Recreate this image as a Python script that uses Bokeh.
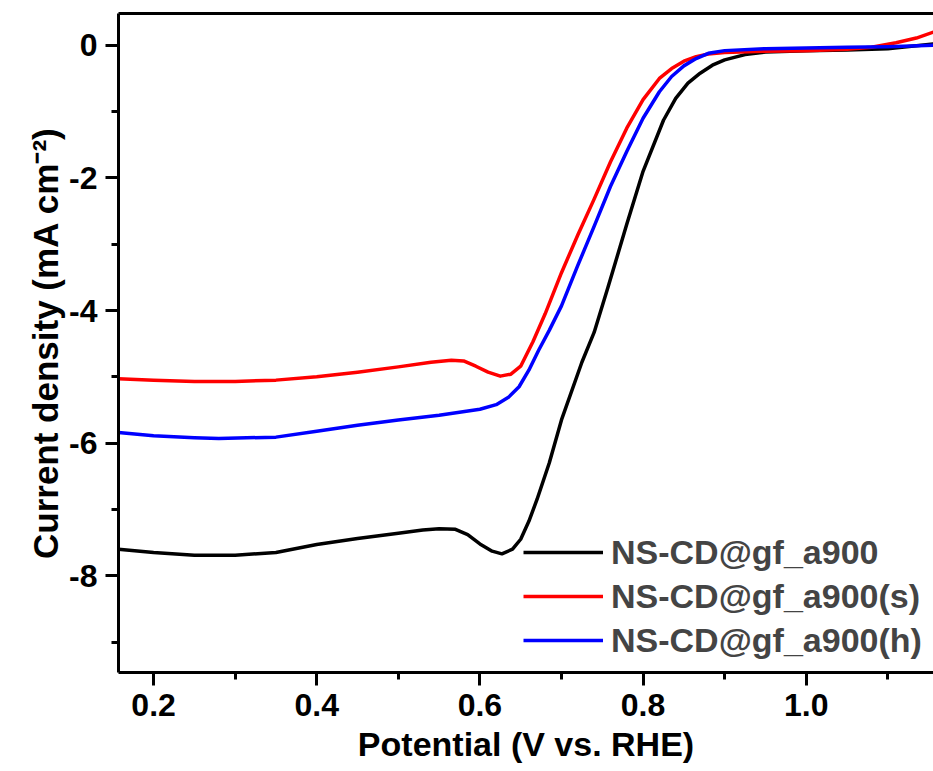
from bokeh.plotting import figure
from bokeh.models import (Range1d, SingleIntervalTicker, LinearAxis, FixedTicker, Legend,
                          LegendItem, PrintfTickFormatter)
from bokeh.embed import file_html
from bokeh.resources import INLINE

# --- data ---
potential_a900 = [0.157, 0.20, 0.25, 0.30, 0.35, 0.40, 0.45, 0.50, 0.53, 0.55, 0.57, 0.585, 0.60, 0.615,
                  0.627, 0.64, 0.65, 0.66, 0.67, 0.685, 0.70, 0.725, 0.74, 0.757, 0.78, 0.80, 0.825,
                  0.84, 0.855, 0.87, 0.885, 0.90, 0.925, 0.95, 1.00, 1.05, 1.10, 1.156]
current_a900 = [-7.60, -7.65, -7.69, -7.69, -7.65, -7.53, -7.44, -7.36, -7.31, -7.29, -7.30, -7.38, -7.52, -7.63,
                -7.67, -7.60, -7.45, -7.18, -6.85, -6.30, -5.65, -4.78, -4.33, -3.65, -2.70, -1.90, -1.13,
                -0.80, -0.57, -0.42, -0.30, -0.22, -0.14, -0.10, -0.08, -0.07, -0.05, 0.02]

potential_a900s = [0.157, 0.20, 0.25, 0.30, 0.35, 0.40, 0.45, 0.50, 0.54, 0.565, 0.58, 0.595, 0.61, 0.625,
                   0.638, 0.65, 0.665, 0.68, 0.70, 0.72, 0.74, 0.76, 0.78, 0.80, 0.82, 0.835, 0.85,
                   0.865, 0.88, 0.90, 0.95, 1.00, 1.05, 1.08, 1.11, 1.135, 1.156]
current_a900s = [-5.03, -5.05, -5.07, -5.07, -5.05, -5.00, -4.93, -4.85, -4.78, -4.75, -4.76, -4.84, -4.93, -4.99,
                 -4.96, -4.84, -4.47, -4.05, -3.43, -2.86, -2.32, -1.76, -1.25, -0.82, -0.50, -0.35, -0.24,
                 -0.17, -0.13, -0.11, -0.09, -0.08, -0.06, -0.03, 0.04, 0.11, 0.20]

potential_a900h = [0.157, 0.20, 0.25, 0.28, 0.35, 0.40, 0.45, 0.50, 0.55, 0.60, 0.62, 0.635, 0.648,
                   0.66, 0.672, 0.685, 0.70, 0.72, 0.74, 0.76, 0.78, 0.80, 0.82, 0.835, 0.85, 0.865,
                   0.88, 0.90, 0.95, 1.00, 1.05, 1.10, 1.156]
current_a900h = [-5.84, -5.89, -5.92, -5.93, -5.91, -5.82, -5.73, -5.65, -5.58, -5.49, -5.42, -5.31, -5.15,
                 -4.90, -4.60, -4.30, -3.93, -3.32, -2.73, -2.13, -1.60, -1.10, -0.70, -0.47, -0.31, -0.20,
                 -0.12, -0.08, -0.05, -0.04, -0.03, -0.02, 0.0]

series_labels = ["NS-CD@gf_a900", "NS-CD@gf_a900(s)", "NS-CD@gf_a900(h)"]
series_colors = ["#000000", "#FF0000", "#0000FF"]

FONT = "Liberation Sans"

p = figure(width=933, height=771, output_backend="svg", toolbar_location=None,
           x_range=Range1d(0.157, 1.156), y_range=Range1d(-9.46, 0.48),
           min_border_left=118, min_border_right=0, min_border_top=13, min_border_bottom=99,
           x_axis_label="Potential (V vs. RHE)",
           y_axis_label="Current density (mA cm\u207b\u00b2)")
p.grid.visible = False
p.outline_line_color = None
p.background_fill_color = "white"
p.border_fill_color = "white"

p.xaxis[0].ticker = SingleIntervalTicker(interval=0.2, num_minor_ticks=2)
p.yaxis[0].ticker = SingleIntervalTicker(interval=2, num_minor_ticks=2)
p.xaxis[0].formatter = PrintfTickFormatter(format="%.1f")
p.yaxis[0].formatter = PrintfTickFormatter(format="%d")

for ax in [p.xaxis[0], p.yaxis[0]]:
    ax.axis_line_width = 3
    ax.major_tick_line_width = 3
    ax.minor_tick_line_width = 3
    ax.major_tick_out = 13
    ax.major_tick_in = 0
    ax.minor_tick_out = 7
    ax.minor_tick_in = 0
    ax.major_label_text_font = FONT
    ax.major_label_text_font_style = "bold"
    ax.major_label_text_font_size = "32px"
    ax.major_label_text_color = "black"
    ax.axis_label_text_font = FONT
    ax.axis_label_text_font_style = "bold"
    ax.axis_label_text_font_size = "34px"
    ax.axis_label_text_color = "black"
    ax.major_label_standoff = 8

p.xaxis[0].axis_label_standoff = 6
p.yaxis[0].axis_label_standoff = 1
p.yaxis[0].axis_label_text_font_size = "35px"

top = LinearAxis(ticker=FixedTicker(ticks=[]), axis_line_width=3,
                 major_label_text_font_size="0px", major_tick_line_color=None,
                 minor_tick_line_color=None)
p.add_layout(top, "above")

xs = [potential_a900, potential_a900s, potential_a900h]
ys = [current_a900, current_a900s, current_a900h]
items = []
for x, y, lab, col in zip(xs, ys, series_labels, series_colors):
    r = p.line(x, y, line_color=col, line_width=3.5, line_join="round")
    items.append(LegendItem(label=lab, renderers=[r]))

legend = Legend(items=items, location=(405, 12), glyph_width=80, glyph_height=20,
                label_standoff=8, spacing=4, padding=0, margin=0,
                label_text_font=FONT, label_text_font_style="bold",
                label_text_font_size="34px", label_height=40,
                border_line_color=None, background_fill_alpha=0)
p.add_layout(legend)

open("out.html", "w").write(file_html(p, INLINE))
